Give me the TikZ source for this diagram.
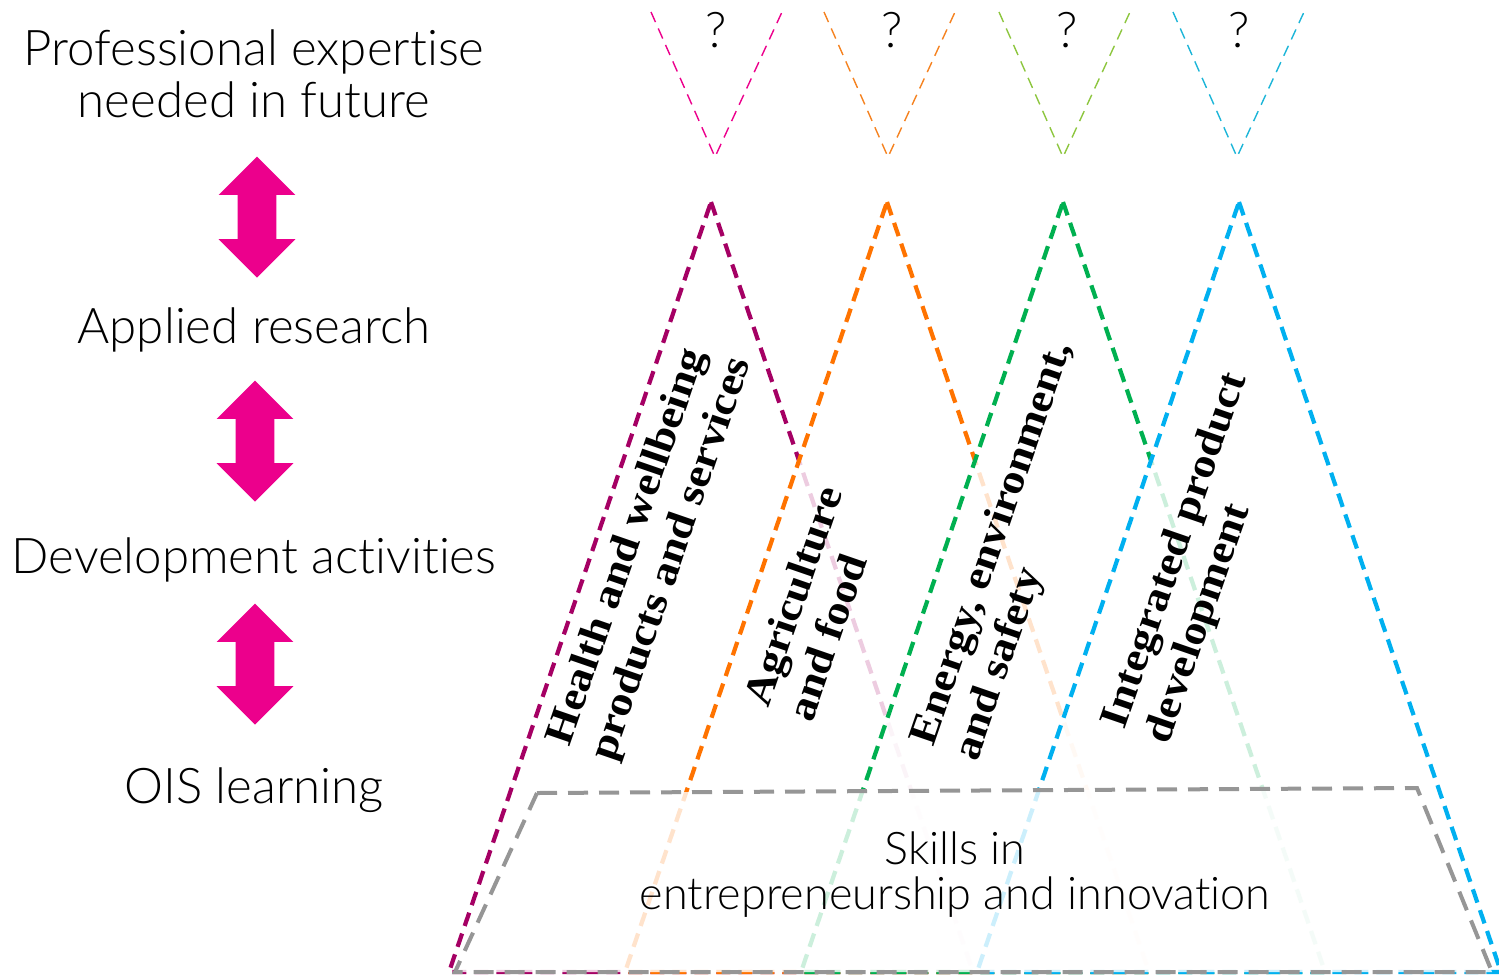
\documentclass[tikz,border=0pt]{standalone}
\usepackage{fontspec}
\setmainfont{Liberation Serif}
\newfontfamily\areafont{Liberation Serif}[FakeStretch=1.12]
\IfFontExistsTF{Lato Light}{\newfontfamily\lato{Lato Light}[Ligatures=NoCommon]}{\newfontfamily\lato{Lato}[Ligatures=NoCommon]}
\usetikzlibrary{shapes.arrows}
\definecolor{hwb}{HTML}{A50064}
\definecolor{agri}{HTML}{FF7300}
\definecolor{envi}{HTML}{00B050}
\definecolor{prod}{HTML}{00B0F0}
\definecolor{skill}{HTML}{969696}
\definecolor{qpink}{HTML}{EC008C}
\definecolor{qorange}{HTML}{F58220}
\definecolor{qgreen}{HTML}{8DC63F}
\definecolor{qblue}{HTML}{1CB5D8}
\tikzset{
  ridge/.style={line width=2.1pt, dash pattern=on 7pt off 4pt},
  veil/.style={fill=white, fill opacity=0.8},
  cue/.style={line width=0.7pt, dash pattern=on 5.5pt off 3.5pt},
  level/.style={font=\lato\fontsize{24.6}{26}\selectfont, align=center, inner sep=0pt},
  field/.style={font=\areafont\bfseries\fontsize{20.5}{23}\selectfont, align=left, rotate=71, anchor=west, inner sep=0pt},
  link/.style={shape=double arrow, rotate=90, fill=qpink, minimum height=60.5pt,
    inner xsep=0pt, inner ysep=9.5pt, double arrow head extend=9.5pt}
}
\begin{document}
\begin{tikzpicture}[x=0.5pt, y=-0.5pt]
  \useasboundingbox (0,0) rectangle (1499,976);

  % levels on the left
  \node[level] (future) at (254,74) {Professional expertise\\needed in future};
  \node[level] (research) at (254,330) {Applied research};
  \node[level] (devel) at (254,560) {Development activities};
  \node[level] (ois) at (254,790) {OIS learning};
  \node[link] (a1) at (257,217) {};
  \node[link] (a2) at (255,441) {};
  \node[link] (a3) at (255,664) {};

  % open question marks
  \foreach \x/\c in {715/qpink, 888/qorange, 1063/qgreen, 1237/qblue}
    \draw[cue, draw=\c] (\x-64,12) -- (\x,157) -- (\x+67,12);
  \foreach \x [count=\i] in {716, 892, 1067, 1239}
    \node[level] (q\i) at (\x,30) {?};

  % competence areas
  \foreach \c [count=\i] in {hwb, agri, envi, prod} {
    \pgfmathsetmacro{\tx}{711+176*(\i-1)}
    \filldraw[veil, ridge, draw=\c] (\tx,202) -- (\tx+262,972) -- (\tx-262,972) -- cycle;
  }

  % base skills
  \filldraw[veil, draw=skill, line width=2pt, dash pattern=on 10pt off 5.5pt]
    (537,793) -- (1417,788) -- (1492,972) -- (455,972) -- cycle;
  \node[level, font=\lato\fontsize{22.5}{22.5}\selectfont] (skills) at (955,875)
    {Skills in\\entrepreneurship and innovation};

  \node[field] (health) at (582,752) {Health and wellbeing\\products and services};
  \node[field] (food) at (777,712) {Agriculture\\and food};
  \node[field] (energy) at (946,752) {Energy, environment,\\and safety};
  \node[field] (ipd) at (1137,735) {Integrated product\\development};
\end{tikzpicture}
\end{document}
